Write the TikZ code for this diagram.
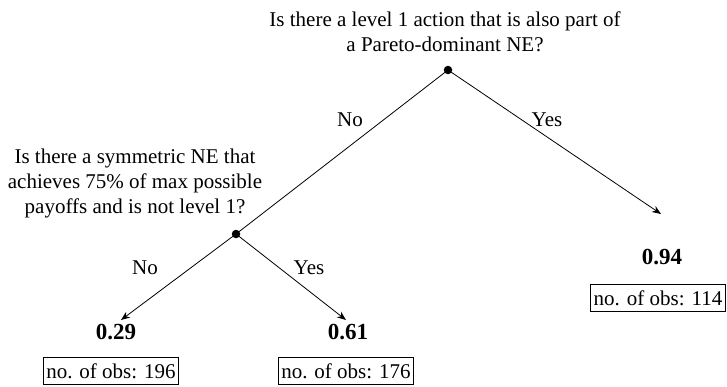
\documentclass[tikz,border=0pt]{standalone}
\usepackage{fontspec}
\setmainfont{Liberation Serif}
\usetikzlibrary{arrows.meta}
\begin{document}
\begin{tikzpicture}[x=1pt,y=-1pt,
  txt/.style={font=\fontsize{21}{25}\selectfont, align=center, inner sep=0pt},
  lbl/.style={font=\fontsize{21}{25}\selectfont, inner sep=0pt},
  val/.style={font=\fontsize{23}{26}\selectfont\bfseries, inner sep=0pt},
  obs/.style={draw, line width=0.8pt, font=\fontsize{21}{25}\selectfont, inner xsep=3pt, inner ysep=0pt, minimum height=27pt},
  dotnode/.style={circle, fill=black, inner sep=0pt, minimum size=8.5pt},
  edge/.style={line width=0.8pt},
  arr/.style={line width=0.8pt, -{Stealth[length=9pt,width=7pt]}}]
\useasboundingbox (0,0) rectangle (727,386);
\node[txt] (q1) at (445,32) {Is there a level 1 action that is also part of\\a Pareto-dominant NE?};
\node[dotnode] (d1) at (448,70) {};
\node[txt] (q2) at (135,183) {Is there a symmetric NE that\\achieves 75\% of max possible\\payoffs and is not level 1?};
\node[dotnode] (d2) at (236,234) {};
\coordinate (t94) at (661,214);
\coordinate (t29) at (121,320);
\coordinate (t61) at (346,320);
\draw[edge] (d1.center) -- (d2.center);
\draw[arr] (d1.center) -- (t94);
\draw[arr] (d2.center) -- (t29);
\draw[arr] (d2.center) -- (t61);
\node[lbl] (no1) at (350,120) {No};
\node[lbl] (yes1) at (547,120) {Yes};
\node[lbl] (no2) at (145,268) {No};
\node[lbl] (yes2) at (309,268) {Yes};
\node[val] (v94) at (662,257) {0.94};
\node[val] (v29) at (116,332) {0.29};
\node[val] (v61) at (348,332) {0.61};
\node[obs] (o114) at (658,298) {no. of obs: 114};
\node[obs] (o196) at (111,371) {no. of obs: 196};
\node[obs] (o176) at (346,371) {no. of obs: 176};
\end{tikzpicture}
\end{document}
